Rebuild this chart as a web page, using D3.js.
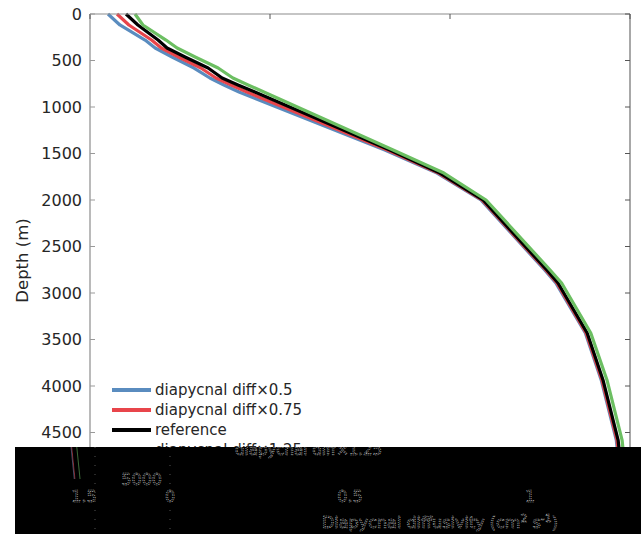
<!DOCTYPE html>
<html>
<head>
<meta charset="utf-8">
<script src="https://cdn.jsdelivr.net/npm/d3@7"></script>
<style>
  body { margin: 0; background: #fff; }
  text { font-family: "DejaVu Sans", sans-serif; }
</style>
</head>
<body>
<svg id="chart" width="641" height="534"></svg>
<script>
// depth levels (m)
const depths = [0, 118, 280, 366, 462, 581, 688, 763, 839, 1462, 1710, 2000, 2753, 2892, 3430, 3935, 4581, 5000];
// diffusivity profiles (cm2 s-1)
const diff050 = [0.050, 0.083, 0.153, 0.181, 0.228, 0.289, 0.333, 0.372, 0.414, 0.819, 0.964, 1.086, 1.263, 1.294, 1.376, 1.420, 1.462, 1.473];
const diff075 = [0.075, 0.108, 0.171, 0.198, 0.246, 0.308, 0.350, 0.392, 0.436, 0.826, 0.968, 1.089, 1.266, 1.297, 1.378, 1.422, 1.464, 1.475];
const diffRef = [0.100, 0.133, 0.189, 0.214, 0.264, 0.328, 0.367, 0.411, 0.458, 0.833, 0.972, 1.092, 1.269, 1.300, 1.381, 1.425, 1.467, 1.478];
const diff125 = [0.125, 0.147, 0.211, 0.242, 0.292, 0.356, 0.397, 0.439, 0.483, 0.842, 0.983, 1.100, 1.278, 1.310, 1.391, 1.436, 1.478, 1.489];
const seriesNames = ["diapycnal diff\u00d70.5", "diapycnal diff\u00d70.75", "reference", "diapycnal diff\u00d71.25"];
const seriesColors = ["#5a8cbf", "#e8454b", "#000000", "#6cbf62"];
const xTicks = [0, 0.5, 1, 1.5];
const yTicks = [0, 500, 1000, 1500, 2000, 2500, 3000, 3500, 4000, 4500, 5000];

const svg = d3.select("#chart");
const W = 641, H = 534;
const margin = {top: 14, right: 11, bottom: 55, left: 90};

const x = d3.scaleLinear().domain([0, 1.5]).range([margin.left, W - margin.right]);
const y = d3.scaleLinear().domain([0, 5000]).range([margin.top, H - margin.bottom]);

const allSeries = [diff050, diff075, diffRef, diff125];

const line = d3.line()
  .x(d => x(d[0]))
  .y(d => y(d[1]));

function drawCurves(g, width, opacity) {
  allSeries.forEach((s, i) => {
    g.append("path")
      .datum(s.map((v, k) => [v, depths[k]]))
      .attr("fill", "none")
      .attr("stroke", seriesColors[i])
      .attr("stroke-width", width)
      .attr("stroke-linejoin", "round")
      .attr("opacity", opacity)
      .attr("d", line);
  });
}

// curves
drawCurves(svg.append("g"), 3.2, 1);

// axes box (MATLAB style, ticks inside)
const axisCol = "#8c8c8c";
svg.append("line").attr("x1", x(0)).attr("x2", x(1.5)).attr("y1", y(0)).attr("y2", y(0))
  .attr("stroke", axisCol).attr("stroke-width", 1.2);
svg.append("line").attr("x1", x(0)).attr("x2", x(0)).attr("y1", y(0)).attr("y2", y(5000))
  .attr("stroke", axisCol).attr("stroke-width", 1.2);
svg.append("line").attr("x1", x(1.5)).attr("x2", x(1.5)).attr("y1", y(0)).attr("y2", y(5000))
  .attr("stroke", "#6e6e6e").attr("stroke-width", 1.2);

svg.append("g").selectAll("line").data(xTicks).join("line")
  .attr("x1", d => x(d)).attr("x2", d => x(d))
  .attr("y1", y(0)).attr("y2", y(0) + 5)
  .attr("stroke", "#555");

svg.append("g").selectAll("line").data(yTicks).join("line")
  .attr("x1", x(1.5) - 5).attr("x2", x(1.5))
  .attr("y1", d => y(d)).attr("y2", d => y(d))
  .attr("stroke", "#555");
svg.append("g").selectAll("line").data(yTicks).join("line")
  .attr("x1", x(0)).attr("x2", x(0) + 5)
  .attr("y1", d => y(d)).attr("y2", d => y(d))
  .attr("stroke", "#999");

// y tick labels
svg.append("g").selectAll("text").data(yTicks).join("text")
  .attr("x", x(0) - 8)
  .attr("y", d => y(d))
  .attr("dy", "0.36em")
  .attr("text-anchor", "end")
  .attr("font-size", 16)
  .attr("fill", "#262626")
  .text(d => d);

svg.append("text")
  .attr("transform", `translate(28,${(y(0) + y(5000)) / 2 + 14}) rotate(-90)`)
  .attr("text-anchor", "middle")
  .attr("font-size", 16.5)
  .attr("fill", "#262626")
  .text("Depth (m)");

// legend
const leg = svg.append("g").attr("transform", "translate(112,390)");
seriesNames.forEach((name, i) => {
  const row = leg.append("g").attr("transform", `translate(0,${i * 20})`);
  row.append("line").attr("x1", 0).attr("x2", 39).attr("y1", 0).attr("y2", 0)
    .attr("stroke", seriesColors[i]).attr("stroke-width", 4);
  row.append("text").attr("x", 43).attr("y", 0).attr("dy", "0.36em")
    .attr("font-size", 15).attr("fill", "#262626").text(name);
});

// damaged bottom band of the picture
const bandTop = 447, bandLeft = 15, shift = 80;
const bandW = W - bandLeft;
svg.append("defs").append("clipPath").attr("id", "band")
  .append("rect").attr("x", bandLeft).attr("y", bandTop).attr("width", bandW).attr("height", H - bandTop);
svg.append("rect").attr("x", bandLeft).attr("y", bandTop)
  .attr("width", bandW).attr("height", H - bandTop).attr("fill", "#000");

const ghostBox = svg.append("g").attr("clip-path", "url(#band)");
[shift, shift - bandW].forEach(dx => {
  const gg = ghostBox.append("g").attr("transform", `translate(${dx},0)`);
  drawCurves(gg, 0.8, 0.7);
  const ghostText = sel => sel
    .attr("fill", "none")
    .attr("stroke", "#c4c4c4")
    .attr("stroke-width", 0.6)
    .attr("stroke-dasharray", "1.2,1");
  gg.append("text").attr("x", x(0) - 8).attr("y", y(5000)).attr("dy", "0.36em")
    .attr("text-anchor", "end").attr("font-size", 16).text("5000").call(ghostText);
  gg.append("g").selectAll("text").data(xTicks).join("text")
    .attr("x", d => x(d)).attr("y", y(5000) + 23)
    .attr("text-anchor", "middle").attr("font-size", 16)
    .text(d => d).call(ghostText);
  gg.append("text").attr("x", 155).attr("y", 450).attr("dy", "0.36em")
    .attr("font-size", 15).text(seriesNames[3]).call(ghostText);
  const t = gg.append("text").attr("x", (x(0) + x(1.5)) / 2).attr("y", 528)
    .attr("text-anchor", "middle").attr("font-size", 16).call(ghostText);
  t.append("tspan").text("Diapycnal diffusivity (cm");
  t.append("tspan").attr("dy", -6).attr("font-size", 11).text("2");
  t.append("tspan").attr("dy", 6).text(" s");
  t.append("tspan").attr("dy", -6).attr("font-size", 11).text("-1");
  t.append("tspan").attr("dy", 6).text(")");
  gg.append("line").attr("x1", x(0)).attr("x2", x(0)).attr("y1", bandTop).attr("y2", H)
    .attr("stroke", "#777").attr("stroke-width", 0.7).attr("stroke-dasharray", "1,8");
  gg.append("line").attr("x1", bandLeft).attr("x2", bandLeft).attr("y1", bandTop).attr("y2", H)
    .attr("stroke", "#777").attr("stroke-width", 0.7).attr("stroke-dasharray", "1,8");
});
</script>
</body>
</html>
